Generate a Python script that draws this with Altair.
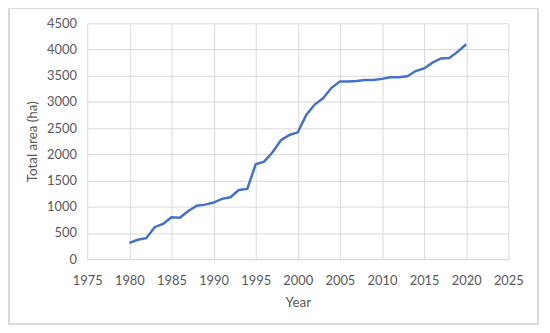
import altair as alt
import pandas as pd

years = list(range(1980, 2021))
area = [310, 370, 400, 610, 670, 800, 790, 920, 1020, 1040,
        1080, 1150, 1180, 1320, 1340, 1810, 1860, 2040, 2270, 2370,
        2420, 2750, 2950, 3070, 3270, 3390, 3390, 3400, 3420, 3420,
        3440, 3470, 3470, 3490, 3590, 3640, 3750, 3830, 3840, 3960, 4100]

df = pd.DataFrame({"Year": years, "Area": area})

FONT = "Lato"
TXT = "#595959"

line = alt.Chart(df).mark_line(color="#4472C4", strokeWidth=2.5).encode(
    x=alt.X("Year:Q", scale=alt.Scale(domain=[1975, 2025], nice=False),
            axis=alt.Axis(values=list(range(1975, 2030, 5)), title="Year",
                          format="d", grid=True, ticks=False, domain=True,
                          domainColor="#d9d9d9", labelPadding=16,
                          labelOverlap=False, labelFlush=False,
                          titlePadding=8)),
    y=alt.Y("Area:Q", scale=alt.Scale(domain=[0, 4500], nice=False),
            axis=alt.Axis(values=list(range(0, 5000, 500)), title="Total area (ha)",
                          format="d", grid=True, ticks=False, domain=False,
                          labelOverlap=False, labelFlush=False,
                          labelPadding=11, titlePadding=7)),
)

border = alt.Chart(df).mark_rect(fill="transparent", stroke="#d9d9d9", strokeWidth=1.5, clip=False).encode(
    x=alt.value(-79), x2=alt.value(455), y=alt.value(-16), y2=alt.value(304)
)

chart = alt.layer(border, line).properties(
    width=425, height=238,
    autosize=alt.AutoSizeParams(type="none"),
    padding={"left": 80, "top": 14, "right": 34, "bottom": 65},
    background="white",
).configure_view(stroke=None).configure_axis(
    gridColor="#d9d9d9", gridWidth=1,
    labelFont=FONT, titleFont=FONT, labelColor=TXT, titleColor=TXT,
    labelFontSize=13, titleFontSize=13.5, titleFontWeight="normal",
)

chart.save("out.html", embed_options={"renderer": "svg", "actions": False})
